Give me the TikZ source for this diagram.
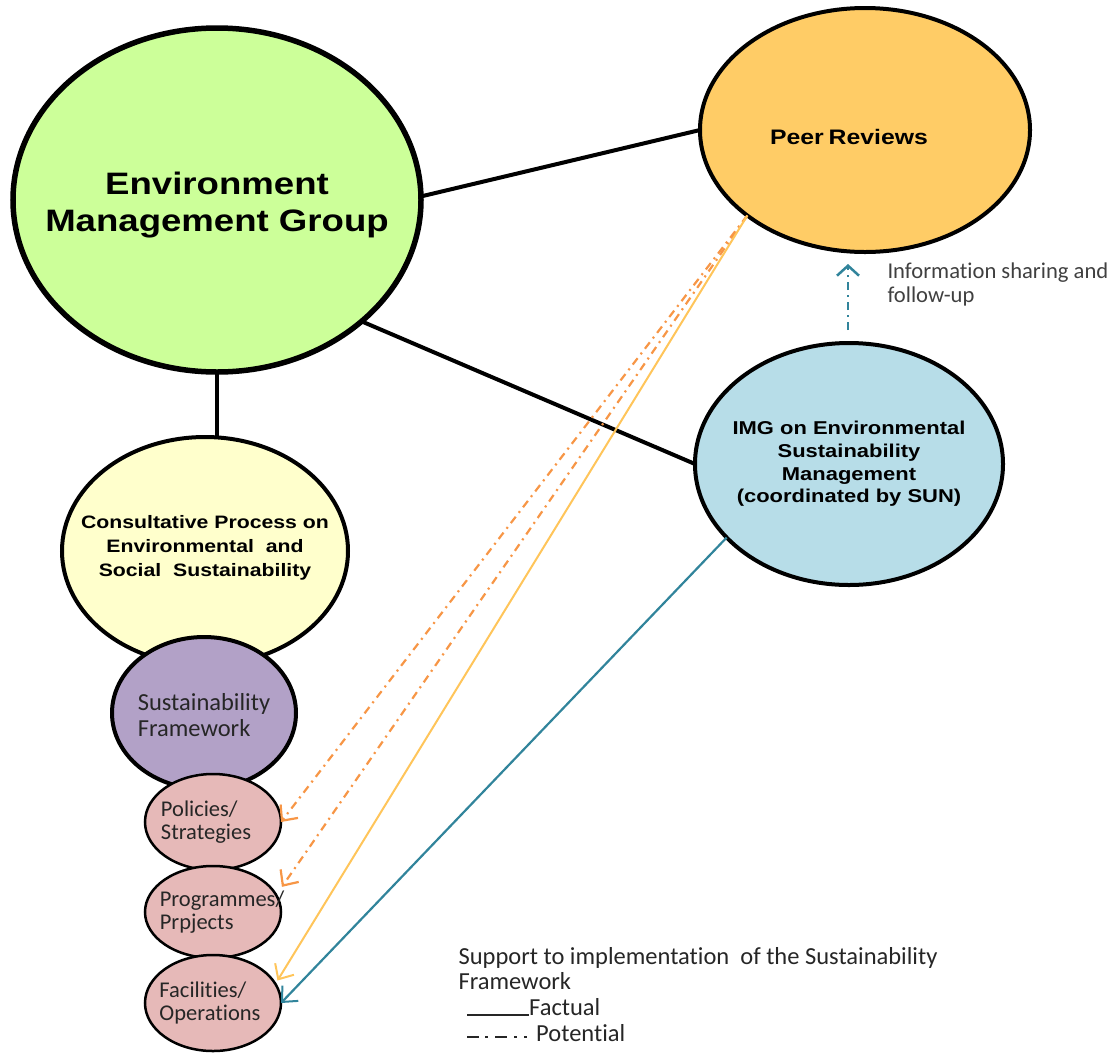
\documentclass[tikz,border=0pt]{standalone}
\usepackage{fontspec}
\setmainfont{Carlito}[Ligatures=NoCommon]
\newfontfamily\bw[FakeStretch=1.18]{Liberation Sans}
\usetikzlibrary{shapes.geometric,arrows.meta}
\definecolor{emgc}{HTML}{CCFF99}
\definecolor{consc}{HTML}{FFFFCC}
\definecolor{purpc}{HTML}{B2A1C7}
\definecolor{pinkc}{HTML}{E6B9B8}
\definecolor{peerc}{HTML}{FFCC66}
\definecolor{imgc}{HTML}{B7DDE8}
\definecolor{orangec}{HTML}{F79646}
\definecolor{yellowc}{HTML}{FFC55A}
\definecolor{tealc}{HTML}{31849B}
\definecolor{txtc}{HTML}{262626}
\definecolor{grayc}{HTML}{404040}
\begin{document}
\begin{tikzpicture}[x=1pt,y=-1pt,
  circ/.style={ellipse, draw=black, inner sep=0pt, outer sep=0pt, line width=4pt},
  smallcirc/.style={ellipse, draw=black, inner sep=0pt, outer sep=0pt, line width=2.5pt, fill=pinkc,
     minimum width=136pt},
  smalltxt/.style={text=txtc, align=left, font=\fontsize{22.5}{23}\selectfont},
  conn/.style={line width=4pt, black},
  potarrow/.style={draw=orangec, line width=2.2pt, dash pattern=on 8pt off 5pt on 2pt off 5pt,
     -{Straight Barb[length=12pt,width=22pt,line width=2.2pt]}},
  factarrow/.style={line width=2pt, -{Straight Barb[length=12pt,width=22pt,line width=2pt]}}
]
\useasboundingbox (0,0) rectangle (1108,1053);

% main ellipses
\node[circ, line width=5.5pt, fill=emgc, minimum width=408pt, minimum height=344pt,
      label={[align=center, font=\bw\bfseries\fontsize{31}{37}\selectfont, yshift=-5pt]center:{Environment\\Management Group}}]
      (emg) at (217,200) {};
\node[circ, fill=consc, minimum width=286pt, minimum height=228pt,
      label={[align=center, font=\bw\bfseries\fontsize{18}{24}\selectfont, yshift=3pt]center:{Consultative Process on\\Environmental\ \ and\\Social\ \ Sustainability}}]
      (cons) at (205,551) {};
\node[circ, fill=purpc, minimum width=184pt, minimum height=152pt,
      label={[align=left, text=txtc, font=\fontsize{24.5}{26}\selectfont, yshift=-2pt]center:{Sustainability\\Framework}}]
      (purp) at (204,713) {};
\node[smallcirc, minimum height=96pt,
      label={[smalltxt, xshift=-7pt]center:{Policies/\\Strategies}}] (pol) at (213,822) {};
\node[smallcirc, minimum height=92pt,
      label={[smalltxt, xshift=9pt]center:{Programmes/\\Prpjects}}] (prog) at (213,912) {};
\node[smallcirc, minimum height=96pt,
      label={[smalltxt, xshift=-3pt]center:{Facilities/\\Operations}}] (fac) at (213,1003) {};

\node[circ, fill=peerc, minimum width=330pt, minimum height=244pt,
      label={[font=\bw\bfseries\fontsize{21}{24}\selectfont, yshift=-7pt, xshift=-16pt]center:{Peer\hspace{-2pt} Reviews}}]
      (peer) at (865,130) {};
\node[circ, fill=imgc, minimum width=308pt, minimum height=242pt,
      label={[align=center, font=\bw\bfseries\fontsize{18.6}{22.7}\selectfont]center:{IMG on Environmental\\Sustainability\\Management\\(coordinated by SUN)}}]
      (img) at (849,464) {};

% black connectors
\draw[conn] (emg.1) -- (peer.west);
\draw[conn] (emg.-40) -- (img.west);
\draw[conn] (emg.south) -- (emg.south |- cons.north);

% support arrows
\draw[potarrow] (peer.216) -- (pol.east);
\draw[potarrow, shorten >=10pt] (peer.216) -- (prog.15);
\draw[factarrow, yellowc, shorten >=4pt] (peer.216) -- (fac.17);
\draw[factarrow, tealc, line width=2.2pt] (img.211) -- (fac.east);

% information sharing arrow
\coordinate (ia) at (848,330);
\coordinate (ib) at (848,264);
\draw[tealc, line width=2.5pt, dash pattern=on 8pt off 5pt on 2pt off 5pt,
      -{Straight Barb[length=10pt,width=22pt,line width=2.5pt]}] (ia) -- (ib);
\node[anchor=west, align=left, text=grayc, font=\fontsize{22.6}{24}\selectfont]
      (info) at (884,284) {Information sharing and\\follow-up};

% legend
\node[anchor=base west, align=left, text=txtc, font=\fontsize{24.5}{25}\selectfont]
      (leg) at (455,989) {Support to implementation\ \ of the Sustainability\\Framework};
\node[anchor=base west, inner sep=0pt, text=txtc, font=\fontsize{24.5}{25}\selectfont]
      (fact) at (529,1015) {Factual};
\node[anchor=base west, inner sep=0pt, text=txtc, font=\fontsize{24.5}{25}\selectfont]
      (pot) at (536,1041) {Potential};
\coordinate (lf) at (467,1015);
\draw[line width=2pt, txtc] (lf) -- (fact.base west);
\coordinate (lp) at (467,1037);
\coordinate (lq) at (530,1037);
\draw[line width=2.5pt, txtc, dash pattern=on 12pt off 6pt on 3pt off 7pt on 12pt off 7pt on 3pt off 7pt on 3pt off 20pt] (lp) -- (lq);
\end{tikzpicture}
\end{document}
